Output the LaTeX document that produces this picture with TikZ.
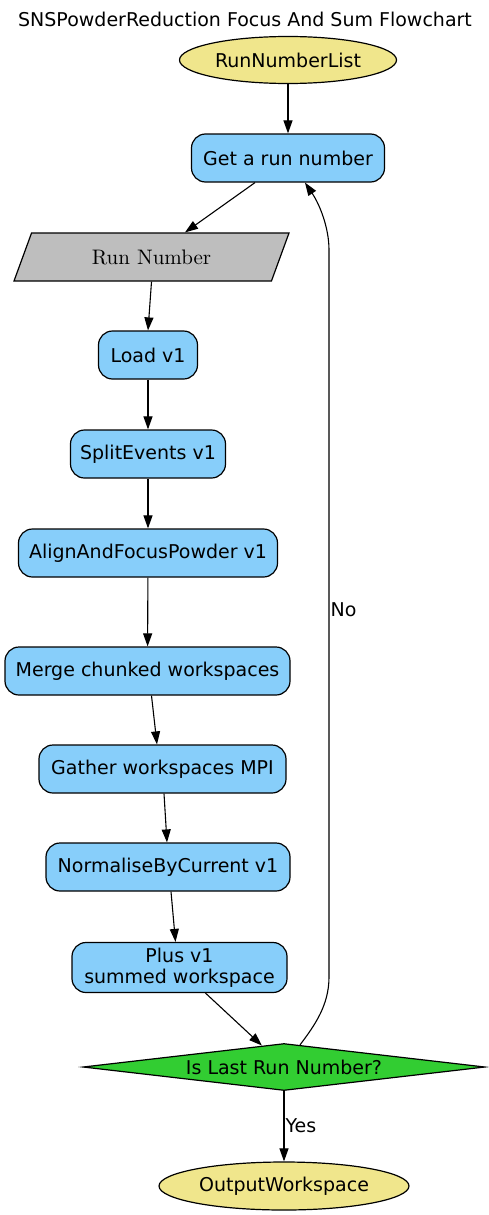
\documentclass[tikz,border=0pt]{standalone}
\usepackage{fontspec}
\newfontfamily\dejavu{DejaVu Sans}
\newfontfamily\lmten{lmroman10-regular}[Extension=.otf]
\usetikzlibrary{shapes.geometric,arrows.meta,calc}
\definecolor{khakic}{HTML}{F0E68C}
\definecolor{skyb}{HTML}{87CEFA}
\definecolor{greyb}{HTML}{BEBEBE}
\definecolor{limeg}{HTML}{32CD32}
\begin{document}
\begin{tikzpicture}[x=1pt,y=-1pt,
  font=\dejavu\fontsize{19}{21}\selectfont,
  algo/.style={draw, fill=skyb, rounded corners=14pt, minimum height=48pt, inner sep=0pt, line width=1.2pt, align=center},
  io/.style={draw, fill=khakic, ellipse, minimum height=47pt, inner sep=0pt, line width=1.2pt},
  conn/.style={line width=1.1pt, -{Triangle[length=13pt,width=9pt]}},
  lab/.style={inner sep=1pt}]
\useasboundingbox (0,0) rectangle (489,1215);
\node (title) at (245,19) {SNSPowderReduction Focus And Sum Flowchart};
\node[io, minimum width=217pt] (rnl) at (288,60) {RunNumberList};
\node[algo, minimum width=193pt] (get) at (288,158) {Get a run number};
\node[draw, fill=greyb, trapezium, trapezium left angle=40.6, trapezium right angle=139.4,
      trapezium stretches body, minimum width=275pt, minimum height=48pt, inner sep=0pt,
      line width=1.2pt, font=\lmten\fontsize{21}{24}\selectfont] (rn) at (151.5,257) {Run Number};
\node[algo, minimum width=99pt] (load) at (148,355) {Load v1};
\node[algo, minimum width=155pt] (split) at (148,454) {SplitEvents v1};
\node[algo, minimum width=259pt] (align) at (148,553) {AlignAndFocusPowder v1};
\node[algo, minimum width=285pt] (merge) at (147.5,671) {Merge chunked workspaces};
\node[algo, minimum width=247pt] (gather) at (162.5,769) {Gather workspaces MPI};
\node[algo, minimum width=244pt] (norm) at (168,867) {NormaliseByCurrent v1};
\node[algo, minimum width=215pt, minimum height=50pt] (plus) at (179.5,967.5) {Plus v1\\summed workspace};
\node[draw, fill=limeg, diamond, aspect=8.5, minimum width=402pt, minimum height=47pt, inner sep=0pt, line width=1.2pt] (dia) at (284,1067) {Is Last Run Number?};
\node[io, minimum width=250pt, minimum height=48pt] (out) at (284,1186) {OutputWorkspace};

\draw[conn] (rnl) -- (get);
\draw[conn] ([xshift=-33pt]get.south) -- ([xshift=33.5pt]rn.north);
\draw[conn] (rn.south) -- (load.north);
\draw[conn] (load) -- (split);
\draw[conn] (split) -- (align);
\draw[conn] (align) -- (merge);
\draw[conn] ([xshift=4pt]merge.south) -- ([xshift=-5.5pt]gather.north);
\draw[conn] ([xshift=1.5pt]gather.south) -- ([xshift=-1pt]norm.north);
\draw[conn] ([xshift=3pt]norm.south) -- ([xshift=-4pt]plus.north);
\draw[conn] ([xshift=26pt]plus.south) -- ($(dia.north)!0.1095!(dia.west)$);
\draw[conn] (dia.south) -- node[lab, anchor=west, pos=0.49] (yes) {Yes} (out.north);
\draw[conn] ($(dia.north)!0.0796!(dia.east)$) .. controls (315,1025) and (329,1005) .. (329,977)
   -- node[lab, anchor=west, pos=0.505] (no) {No} (329,250)
   .. controls (329,228) and (320,205) .. ([xshift=17pt]get.south);
\end{tikzpicture}
\end{document}
